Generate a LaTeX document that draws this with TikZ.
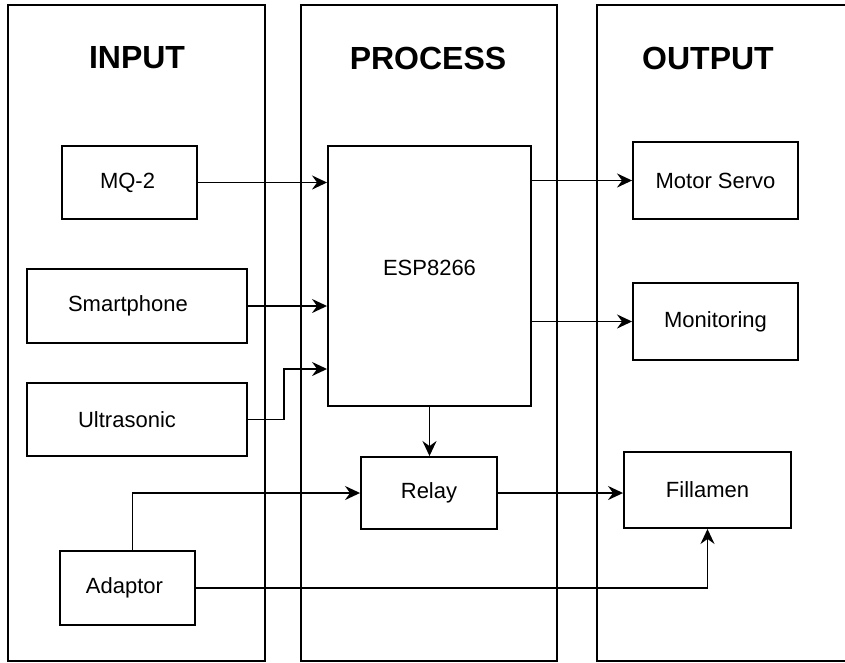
\documentclass[tikz,border=0pt]{standalone}
\usepackage{fontspec}
\setmainfont{Liberation Sans}
\usetikzlibrary{arrows.meta,%
                positioning,%
                calc%
              }
%% blocks: name/x/y/width/height/text offset/text
\def\setofblocks{mq/129.5/182.5/135/73/4/MQ-2, smart/137/306/220/74/18/Smartphone,
  ultra/137/419.5/220/73/20/Ultrasonic, adap/127.5/588/135/74/6/Adaptor,
  relay/429/493/136/72/0/Relay, motor/715.5/180.5/165/77/0/Motor Servo,
  moni/715.5/321.5/165/77/0/Monitoring, fil/707.5/490/167/76/0/Fillamen}
%% columns: name/left/right/title x/title
\def\setofcolumns{colin/8/265/137/INPUT, colpro/301/557/428/PROCESS}

\begin{document}
\begin{tikzpicture}[x=1pt,y=-1pt,
    blok/.style={draw, rectangle, line width=1.9pt, inner sep=0pt,
      font=\fontsize{22}{26}\selectfont},
    kolom/.style={draw, line width=1.8pt},
    kop/.style={font=\fontsize{32}{38}\selectfont\bfseries},
    pijl/.style={line width=1.8pt, -{Stealth[length=15pt,width=14pt,inset=5pt]}}]%

    \useasboundingbox (0,0) rectangle (845,662);
    \clip (0,0) rectangle (845,662);

    %% DRAW COLUMNS
    \foreach \n/\l/\r/\tx/\t in \setofcolumns {%
      \draw[kolom] (\l,5) rectangle (\r,661);%
      \node[kop] (\n) at (\tx,58) {\t};%
    }%
    \draw[kolom] (850,5) -- (597,5) -- (597,661) -- (850,661);% OUTPUT is open at the right
    \node[kop] (colout) at (708,58) {OUTPUT};

    %% DRAW BLOCKS
    \foreach \n/\x/\y/\w/\h/\dx/\t in \setofblocks {%
      \node[blok, minimum width=\w pt, minimum height=\h pt] (\n) at (\x,\y) {\t\kern\dx pt\relax};%
    }%
    \node[blok, minimum width=203pt, minimum height=260pt,%
      label={[font=\fontsize{22}{26}\selectfont, yshift=8pt]center:ESP8266}]%
      (esp) at (429.5,276) {};

    %% DRAW CONNECTORS
    \coordinate (espin) at (esp.west |- 0,369);
    \draw[pijl] (mq.east) -- (mq.east -| esp.west);
    \draw[pijl] (smart.east) -- (smart.east -| esp.west);
    \draw[pijl] (ultra.east) -- ++(36,0) |- (espin);
    \draw[pijl] (esp.east |- motor.west) -- (motor.west);
    \draw[pijl] (esp.east |- moni.west) -- (moni.west);
    \draw[pijl] (esp.south) -- (esp.south |- relay.north);
    \draw[pijl] ([xshift=5pt]adap.north) |- (relay.west);
    \draw[pijl] (relay.east) -- (relay.east -| fil.west);
    \draw[pijl] (adap.east) -| (fil.south);

  \end{tikzpicture}
\end{document}
